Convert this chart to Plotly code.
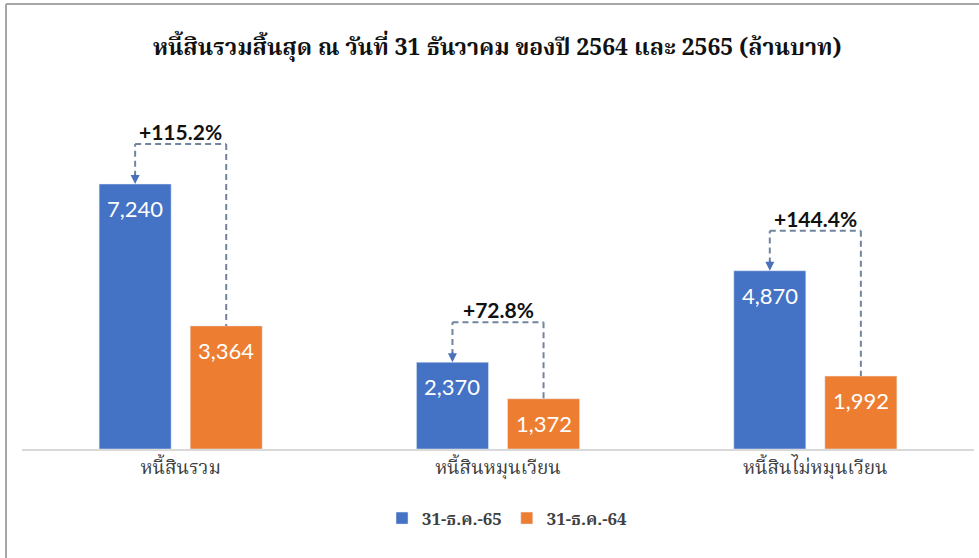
import plotly.graph_objects as go

categories = ["หนี้สินรวม", "หนี้สินหมุนเวียน", "หนี้สินไม่หมุนเวียน"]
series_names = ["31-ธ.ค.-65", "31-ธ.ค.-64"]
values_65 = [7240, 2370, 4870]
values_64 = [3364, 1372, 1992]
growth_labels = ["+115.2%", "+72.8%", "+144.4%"]
title_text = "หนี้สินรวมสิ้นสุด ณ วันที่ 31 ธันวาคม ของปี 2564 และ 2565 (ล้านบาท)"

BLUE = "#4472C4"
ORANGE = "#ED7D31"
DASH = "#71859F"
THAI_SERIF = "Noto Serif Thai, Liberation Serif, Times New Roman, serif"
SANS = "Lato, Open Sans, Noto Sans Thai, sans-serif"

fig = go.Figure()
fig.add_bar(name=series_names[0], x=categories, y=values_65, marker_color=BLUE)
fig.add_bar(name=series_names[1], x=categories, y=values_64, marker_color=ORANGE)

OFF = 0.1435  # offset of grouped bar centers from category centre (category units)
BRACKET = 1090  # vertical gap of bracket above the taller bar (data units)

shapes = []
annotations = []
for i, (a, b, g) in enumerate(zip(values_65, values_64, growth_labels)):
    xa, xb = i - OFF, i + OFF
    top = max(a, b) + BRACKET
    line = dict(color=DASH, width=2, dash="6px,4px")
    shapes.append(dict(type="line", xref="x", yref="y", x0=xa, x1=xa, y0=a + 200, y1=top, line=line))
    shapes.append(dict(type="line", xref="x", yref="y", x0=xa, x1=xb, y0=top, y1=top, line=line))
    shapes.append(dict(type="line", xref="x", yref="y", x0=xb, x1=xb, y0=top, y1=b, line=line))
    annotations.append(dict(x=xa, y=a, xref="x", yref="y", ax=0, ay=-12, showarrow=True,
                            arrowhead=2, arrowsize=1.2, arrowwidth=1.5, arrowcolor="#4A72B8", text=""))
    annotations.append(dict(x=i, y=top, xref="x", yref="y", text="<b>%s</b>" % g, showarrow=False,
                            yanchor="bottom", yshift=-2, font=dict(family=SANS, size=21, color="#111111")))
    annotations.append(dict(x=xa, y=a, xref="x", yref="y", text=f"{a:,}", showarrow=False,
                            yanchor="top", yshift=-9, font=dict(family=SANS, size=22, color="white")))
    annotations.append(dict(x=xb, y=b, xref="x", yref="y", text=f"{b:,}", showarrow=False,
                            yanchor="top", yshift=-9, font=dict(family=SANS, size=22, color="white")))

# outer frame lines (left and top)
shapes.append(dict(type="line", xref="paper", yref="paper", x0=-0.0168, x1=-0.0168, y0=-0.33, y1=1.216,
                   line=dict(color="#A6A6A6", width=2)))
shapes.append(dict(type="line", xref="paper", yref="paper", x0=-0.0168, x1=1.01, y0=1.216, y1=1.216,
                   line=dict(color="#A6A6A6", width=2)))

fig.update_layout(
    width=979, height=558,
    margin=dict(l=22, r=5, t=83, b=109),
    paper_bgcolor="white", plot_bgcolor="white",
    barmode="group", bargap=0.426, bargroupgap=0.209,
    title=dict(text="<b>%s</b>" % title_text, x=0.508, xanchor="center", y=0.915, yanchor="middle",
               font=dict(family=THAI_SERIF, size=23, color="#111111")),
    xaxis=dict(showline=True, linecolor="#D9D9D9", linewidth=1.5, ticks="", showgrid=False,
               range=[-0.5, 2.5], autorange=False,
               tickfont=dict(family=THAI_SERIF, size=19, color="#404040")),
    yaxis=dict(visible=False, range=[0, 10000]),
    legend=dict(orientation="h", x=0.51, xanchor="center", y=-0.19, yanchor="middle",
                font=dict(family=THAI_SERIF, size=17, color="#404040", weight="bold"),
                traceorder="normal"),
    shapes=shapes,
    annotations=annotations,
    showlegend=True,
)

fig.write_html("out.html", config={"displayModeBar": False},
               post_script="document.body.style.margin='0';")
